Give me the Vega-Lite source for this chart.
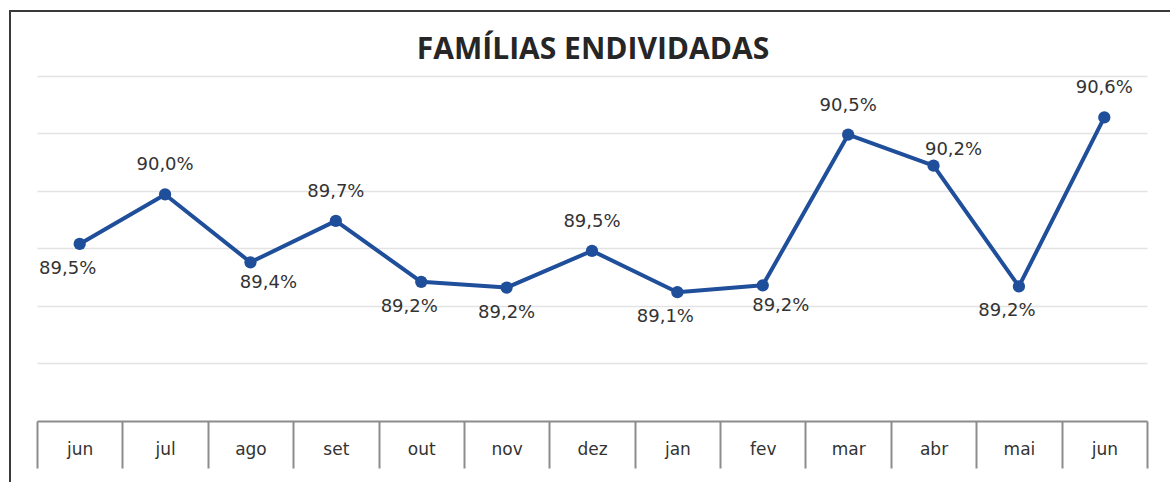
{
  "$schema": "https://vega.github.io/schema/vega-lite/v6.json",
  "autosize": {"type": "none"},
  "padding": {"left": 10, "top": 11, "right": -6, "bottom": -9},
  "width": 1166,
  "height": 480,
  "background": "white",
  "title": {"text": "FAMÍLIAS ENDIVIDADAS", "font": "Open Sans", "fontSize": 30, "fontWeight": "bold", "color": "#262626", "anchor": "middle", "offset": -39, "baseline": "middle", "dy": 30},
  "config": {
    "view": {"stroke": "#3a3a3a", "strokeWidth": 2},
    "locale": {"number": {"decimal": ",", "thousands": ".", "grouping": [3], "currency": ["R$", ""]}}
  },
  "data": {"values": [
    {"mes": "jun/12", "v": 0.8954},
    {"mes": "jul/12", "v": 0.8997},
    {"mes": "ago/12", "v": 0.8938},
    {"mes": "set/12", "v": 0.8974},
    {"mes": "out/12", "v": 0.8921},
    {"mes": "nov/12", "v": 0.8916},
    {"mes": "dez/12", "v": 0.8948},
    {"mes": "jan/13", "v": 0.8912},
    {"mes": "fev/13", "v": 0.8918},
    {"mes": "mar/13", "v": 0.9049},
    {"mes": "abr/13", "v": 0.9022},
    {"mes": "mai/13", "v": 0.8917},
    {"mes": "jun/13", "v": 0.9064}
  ]},
  "encoding": {
    "x": {"field": "mes", "type": "ordinal", "sort": null,
      "scale": {"range": [27, 1137], "paddingInner": 0, "paddingOuter": 0},
      "axis": {"title": null, "orient": "bottom", "offset": -70, "domainColor": "#8c8c8c", "domainWidth": 2, "tickColor": "#8c8c8c", "tickWidth": 2, "tickSize": 47, "tickBand": "extent", "labelExpr": "substring(datum.label, 0, 3)", "labelFont": "DejaVu Sans", "labelFontSize": 17, "labelColor": "#333333", "labelPadding": -27, "labelAngle": 0, "grid": false}},
    "y": {"field": "v", "type": "quantitative",
      "scale": {"domain": [0.873913, 0.915652], "nice": false, "zero": false},
      "axis": {"title": null, "values": [0.885, 0.89, 0.895, 0.9, 0.905, 0.91], "labels": false, "ticks": false, "domain": false, "grid": true, "gridColor": "#e3e3e3", "gridWidth": 1.5}}
  },
  "layer": [
    {"mark": {"type": "line", "color": "#1f4e9a", "strokeWidth": 4, "strokeJoin": "round"}},
    {"mark": {"type": "point", "filled": true, "color": "#1f4e9a", "size": 150, "opacity": 1}},
    {"transform": [{"filter": {"field": "mes", "oneOf": ["jul/12", "set/12", "dez/12", "mar/13", "jun/13"]}}],
     "mark": {"type": "text", "font": "DejaVu Sans", "fontSize": 18, "color": "#333333", "dy": -29},
     "encoding": {"text": {"field": "v", "type": "quantitative", "format": ".1%"}}},
    {"transform": [{"filter": {"field": "mes", "oneOf": ["abr/13"]}}],
     "mark": {"type": "text", "font": "DejaVu Sans", "fontSize": 18, "color": "#333333", "dy": -16, "dx": 20},
     "encoding": {"text": {"field": "v", "type": "quantitative", "format": ".1%"}}},
    {"transform": [{"filter": {"field": "mes", "oneOf": ["jun/12", "out/12", "jan/13", "mai/13"]}}],
     "mark": {"type": "text", "font": "DejaVu Sans", "fontSize": 18, "color": "#333333", "dy": 25, "dx": -12},
     "encoding": {"text": {"field": "v", "type": "quantitative", "format": ".1%"}}},
    {"transform": [{"filter": {"field": "mes", "oneOf": ["nov/12"]}}],
     "mark": {"type": "text", "font": "DejaVu Sans", "fontSize": 18, "color": "#333333", "dy": 25, "dx": 0},
     "encoding": {"text": {"field": "v", "type": "quantitative", "format": ".1%"}}},
    {"transform": [{"filter": {"field": "mes", "oneOf": ["ago/12", "fev/13"]}}],
     "mark": {"type": "text", "font": "DejaVu Sans", "fontSize": 18, "color": "#333333", "dy": 21, "dx": 18},
     "encoding": {"text": {"field": "v", "type": "quantitative", "format": ".1%"}}}
  ]
}
